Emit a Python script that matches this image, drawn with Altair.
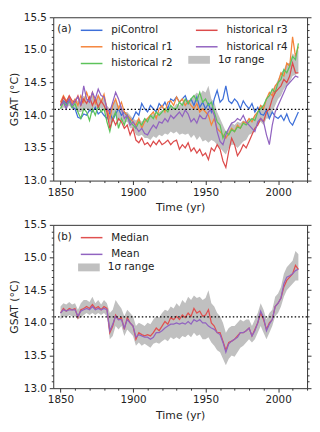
import altair as alt
import pandas as pd

# ---------------- data (every 2 years) ----------------
YEARS = list(range(1850, 2015, 2))

PICONTROL = [14.15, 14.22, 14.18, 14.25, 14.12, 14.10, 13.97, 13.95, 14.02, 14.00,
             14.08, 14.05, 14.12, 14.02, 14.06, 14.00, 13.95, 14.05, 13.92, 14.02,
             14.10, 14.00, 14.05, 13.98, 13.90, 13.95, 14.05, 14.00, 14.18, 14.10,
             14.05, 14.15, 14.10, 14.05, 14.18, 14.12, 14.20, 14.10, 14.25, 14.22,
             14.28, 14.20, 14.25, 14.30, 14.18, 14.25, 14.15, 14.28, 14.12, 14.20,
             14.10, 14.18, 14.05, 14.25, 14.38, 14.20, 14.25, 14.45, 14.22, 14.18,
             14.25, 14.20, 14.10, 14.22, 14.15, 14.10, 14.18, 14.05, 14.12, 14.02,
             14.00, 14.08, 13.95, 14.05, 13.98, 13.95, 14.00, 13.92, 14.02, 13.90,
             13.85, 13.95, 14.05]
HIST_R1 = [14.20, 14.30, 14.22, 14.28, 14.18, 14.25, 14.15, 14.30, 14.20, 14.35,
           14.22, 14.35, 14.18, 14.30, 14.20, 14.32, 14.10, 13.95, 14.15, 14.25,
           14.10, 14.20, 14.05, 14.00, 13.95, 13.90, 13.85, 13.95, 13.80, 13.90,
           13.95, 14.00, 14.05, 13.95, 14.10, 14.15, 14.05, 14.20, 14.22, 14.15,
           14.28, 14.20, 14.25, 14.15, 14.22, 14.15, 14.10, 14.18, 14.05, 14.10,
           14.05, 14.00, 13.85, 13.95, 13.80, 13.75, 13.70, 13.65, 13.72, 13.80,
           13.75, 13.85, 13.80, 13.90, 13.88, 13.95, 13.90, 14.00, 14.05, 14.15,
           14.10, 14.25, 14.35, 14.30, 14.45, 14.50, 14.65, 14.60, 14.80, 14.75,
           15.20, 14.90, 15.05]
HIST_R2 = [14.10, 14.20, 14.15, 14.22, 14.12, 14.18, 14.05, 13.95, 14.10, 14.05,
           13.92, 14.10, 14.00, 14.15, 14.05, 14.10, 13.90, 13.75, 13.95, 14.05,
           13.80, 13.95, 13.85, 14.00, 13.90, 13.85, 13.80, 13.90, 13.85, 13.95,
           13.90, 14.00, 13.95, 14.05, 14.00, 14.05, 14.10, 14.05, 14.15, 14.10,
           14.10, 14.20, 14.15, 14.25, 14.18, 14.25, 14.30, 14.22, 14.35, 14.20,
           14.25, 14.15, 14.20, 14.05, 13.90, 13.85, 13.65, 13.75, 13.70, 13.78,
           13.75, 13.82, 13.80, 13.88, 13.85, 13.90, 13.95, 13.92, 14.05, 14.10,
           14.15, 14.25, 14.30, 14.40, 14.35, 14.50, 14.55, 14.70, 14.65, 14.75,
           14.90, 14.85, 15.10]
HIST_R3 = [14.15, 14.28, 14.20, 14.30, 14.22, 14.20, 14.30, 14.15, 14.25, 14.18,
           14.28, 14.15, 14.25, 14.12, 14.22, 14.15, 14.05, 13.80, 13.95, 13.85,
           13.95, 13.90, 13.80, 13.85, 13.70, 13.80, 13.62, 13.58, 13.65, 13.55,
           13.58, 13.52, 13.60, 13.55, 13.62, 13.55, 13.58, 13.62, 13.55, 13.60,
           13.62, 13.48, 13.55, 13.50, 13.58, 13.45, 13.50, 13.42, 13.48, 13.38,
           13.42, 13.32, 13.50, 13.45, 13.55, 13.48, 13.30, 13.20, 13.45, 13.65,
           13.55, 13.38, 13.45, 13.55, 13.50, 13.60, 13.70, 13.80, 13.85, 13.95,
           13.90, 14.05, 14.10, 14.25, 14.35, 14.40, 14.45, 14.55, 14.50, 14.60,
           14.80, 14.65, 14.65]
HIST_R4 = [14.15, 14.20, 14.10, 14.25, 14.15, 14.22, 14.28, 14.15, 14.45, 14.25,
           14.20, 14.35, 14.25, 14.40, 14.30, 14.28, 14.10, 14.05, 14.20, 14.35,
           14.25, 14.10, 13.95, 14.00, 13.85, 13.90, 13.82, 13.75, 13.80, 13.72,
           13.70, 13.78, 13.85, 13.80, 13.90, 13.88, 13.95, 13.90, 14.00, 13.95,
           14.00, 14.05, 13.98, 14.08, 14.02, 13.90, 13.95, 13.88, 14.00, 13.95,
           13.95, 14.05, 14.10, 14.00, 13.75, 13.60, 13.55, 13.70, 13.80, 13.88,
           13.90, 13.95, 13.92, 14.00, 13.90, 13.85, 13.80, 13.75, 13.90, 13.95,
           13.90, 13.70, 13.55, 13.85, 14.05, 14.15, 14.25, 14.35, 14.45, 14.50,
           14.55, 14.60, 14.58]
BAND_A_LO = [14.10, 14.12, 14.10, 14.15, 14.10, 14.10, 14.05, 14.05, 14.08, 14.10,
             14.05, 14.12, 14.08, 14.15, 14.10, 14.12, 13.95, 13.85, 13.95, 14.00,
             13.90, 13.95, 13.88, 13.90, 13.80, 13.80, 13.70, 13.68, 13.70, 13.65,
             13.65, 13.62, 13.68, 13.65, 13.70, 13.68, 13.72, 13.70, 13.75, 13.72,
             13.75, 13.70, 13.72, 13.70, 13.72, 13.65, 13.70, 13.62, 13.68, 13.60,
             13.62, 13.58, 13.62, 13.60, 13.55, 13.50, 13.45, 13.40, 13.50, 13.55,
             13.55, 13.50, 13.55, 13.60, 13.62, 13.70, 13.72, 13.75, 13.85, 13.90,
             13.85, 13.95, 13.95, 14.05, 14.15, 14.25, 14.30, 14.40, 14.45, 14.50,
             14.60, 14.62, 14.65]
BAND_A_HI = [14.22, 14.28, 14.22, 14.28, 14.20, 14.25, 14.22, 14.25, 14.30, 14.25,
             14.25, 14.32, 14.22, 14.32, 14.25, 14.30, 14.15, 14.10, 14.18, 14.25,
             14.15, 14.15, 14.05, 14.05, 14.00, 13.95, 13.92, 13.95, 13.90, 13.95,
             13.95, 14.00, 14.02, 14.00, 14.05, 14.08, 14.05, 14.10, 14.15, 14.12,
             14.18, 14.15, 14.20, 14.25, 14.22, 14.25, 14.30, 14.35, 14.30, 14.38,
             14.35, 14.45, 14.25, 14.20, 14.05, 13.95, 13.85, 13.75, 13.80, 13.88,
             13.85, 13.90, 13.88, 13.92, 13.90, 13.95, 13.95, 14.00, 14.05, 14.15,
             14.15, 14.25, 14.30, 14.40, 14.45, 14.55, 14.65, 14.70, 14.80, 14.80,
             14.95, 14.90, 15.00]

MEDIAN = [14.15, 14.22, 14.18, 14.22, 14.20, 14.22, 14.08, 14.20, 14.22, 14.25,
          14.22, 14.28, 14.22, 14.25, 14.20, 14.25, 14.22, 13.85, 13.95, 14.12,
          14.05, 14.08, 13.90, 14.08, 14.00, 13.95, 13.75, 13.85, 13.82, 13.80,
          13.82, 13.80, 13.85, 13.92, 13.88, 13.95, 14.02, 13.98, 14.08, 14.05,
          14.10, 14.05, 14.12, 14.08, 14.15, 14.10, 14.22, 14.15, 14.18, 14.10,
          14.12, 14.20, 14.00, 13.95, 13.85, 13.85, 13.72, 13.58, 13.70, 13.72,
          13.75, 13.80, 13.85, 13.85, 13.88, 13.92, 13.80, 13.90, 14.00, 14.15,
          14.05, 13.90, 14.00, 14.05, 14.25, 14.30, 14.38, 14.55, 14.65, 14.70,
          14.75, 14.88, 14.82]
MEAN = [14.15, 14.20, 14.18, 14.20, 14.20, 14.20, 14.10, 14.18, 14.20, 14.22,
        14.20, 14.25, 14.20, 14.22, 14.20, 14.22, 14.20, 13.88, 13.98, 14.10,
        14.05, 14.05, 13.92, 14.05, 14.00, 13.95, 13.78, 13.82, 13.80, 13.78,
        13.78, 13.75, 13.78, 13.85, 13.85, 13.88, 13.92, 13.95, 13.98, 13.98,
        14.00, 13.98, 14.00, 13.98, 14.02, 13.98, 14.05, 14.02, 14.05, 14.00,
        14.00, 13.95, 13.92, 13.90, 13.85, 13.82, 13.70, 13.55, 13.68, 13.72,
        13.75, 13.78, 13.85, 13.85, 13.88, 13.92, 13.80, 13.88, 14.00, 14.18,
        14.08, 13.88, 13.98, 14.05, 14.25, 14.30, 14.38, 14.60, 14.70, 14.72,
        14.75, 14.80, 14.82]
BAND_B_LO = [14.05, 14.10, 14.08, 14.12, 14.10, 14.10, 14.05, 14.08, 14.12, 14.15,
             14.12, 14.15, 14.12, 14.15, 14.12, 14.15, 14.10, 13.75, 13.80, 13.95,
             13.90, 13.95, 13.80, 13.90, 13.85, 13.80, 13.65, 13.70, 13.65, 13.68,
             13.65, 13.62, 13.68, 13.70, 13.68, 13.72, 13.75, 13.72, 13.78, 13.75,
             13.78, 13.75, 13.80, 13.78, 13.82, 13.78, 13.85, 13.80, 13.82, 13.75,
             13.75, 13.78, 13.70, 13.65, 13.58, 13.55, 13.45, 13.35, 13.45, 13.50,
             13.48, 13.55, 13.62, 13.65, 13.70, 13.75, 13.70, 13.75, 13.85, 13.95,
             13.85, 13.75, 13.85, 13.95, 14.10, 14.15, 14.25, 14.40, 14.50, 14.55,
             14.60, 14.65, 14.65]
BAND_B_HI = [14.25, 14.30, 14.28, 14.32, 14.28, 14.30, 14.20, 14.30, 14.35, 14.35,
             14.32, 14.40, 14.30, 14.35, 14.28, 14.35, 14.30, 14.15, 14.20, 14.35,
             14.28, 14.22, 14.10, 14.20, 14.15, 14.10, 13.95, 14.00, 13.98, 13.95,
             14.00, 13.98, 14.05, 14.10, 14.08, 14.15, 14.20, 14.18, 14.25, 14.22,
             14.30, 14.25, 14.35, 14.30, 14.40, 14.35, 14.42, 14.38, 14.40, 14.35,
             14.38, 14.50, 14.30, 14.25, 14.15, 14.10, 14.00, 13.85, 13.92, 13.95,
             13.95, 14.00, 14.05, 14.02, 14.05, 14.05, 13.95, 14.05, 14.15, 14.30,
             14.20, 14.05, 14.15, 14.20, 14.40, 14.45, 14.55, 14.75, 14.85, 14.90,
             14.95, 15.10, 15.05]

BASELINE = 14.09

NAMES_A = ["piControl", "historical r1", "historical r2", "historical r3", "historical r4"]
VALUES_A = [PICONTROL, HIST_R1, HIST_R2, HIST_R3, HIST_R4]
COLORS = {"piControl": "#3d6fd9", "historical r1": "#f5843a", "historical r2": "#5cc35a",
          "historical r3": "#dc4b4b", "historical r4": "#9163c0",
          "Median": "#e0504f", "Mean": "#9163c0"}
NAMES_B = ["Median", "Mean"]
VALUES_B = [MEDIAN, MEAN]
BAND_LABEL = "1σ range"
BAND_COLOR = "#c0c0c0"

X_TICKS = list(range(1850, 2021, 10))
Y_TICKS = [round(13.0 + 0.1 * i, 1) for i in range(26)]

# ---------------- tables ----------------
def long_table(names, values):
    rows = []
    for n, vals in zip(names, values):
        for yr, v in zip(YEARS, vals):
            rows.append({"year": yr, "value": v, "series": n})
    return pd.DataFrame(rows)

lines_a = long_table(NAMES_A, VALUES_A)
lines_b = long_table(NAMES_B, VALUES_B)
band_a = pd.DataFrame({"year": YEARS, "lo": BAND_A_LO, "hi": BAND_A_HI, "label": BAND_LABEL})
band_b = pd.DataFrame({"year": YEARS, "lo": BAND_B_LO, "hi": BAND_B_HI, "label": BAND_LABEL})
base_df = pd.DataFrame({"y": [BASELINE]})

FONT = "DejaVu Sans"
TXT = "#222222"
xscale = alt.Scale(domain=[1845, 2020], nice=False, zero=False)
yscale = alt.Scale(domain=[13.0, 15.5], nice=False, zero=False)

X_MAJOR = "datum.value % 50 === 0"
Y_MAJOR = "abs(datum.value * 2 - round(datum.value * 2)) < 0.001"

x_axis = alt.Axis(values=X_TICKS, format="d", orient="bottom", title="Time (yr)",
                  labelExpr=f"({X_MAJOR}) ? datum.label : ''",
                  tickSize={"condition": {"test": f"!({X_MAJOR})", "value": 2}, "value": 4})
y_axis = alt.Axis(values=Y_TICKS, format=".1f", orient="left", title="GSAT (°C)",
                  labelExpr=f"({Y_MAJOR}) ? datum.label : ''",
                  tickSize={"condition": {"test": f"!({Y_MAJOR})", "value": 2}, "value": 4})
y_axis_r = alt.Axis(values=Y_TICKS, orient="right", title="", labels=False,
                    tickSize={"condition": {"test": f"!({Y_MAJOR})", "value": 2}, "value": 4})

W, H = 258, 166
# legend symbols: a short unit size keeps rows tight, the path itself is ~22px long
LINE_SYM = "M-1,0L3.4,0"
BOX_SYM = "M-1,-0.8L3.4,-0.8L3.4,0.8L-1,0.8Z"
SYM_SIZE = 100


def panel(band_df, line_df, names_order, tag, leg_xy, band_xy, columns):
    band = alt.Chart(band_df).mark_area(opacity=1).encode(
        x=alt.X("year:Q", scale=xscale, axis=x_axis),
        y=alt.Y("lo:Q", scale=yscale, axis=y_axis),
        y2="hi:Q",
        fill=alt.Fill("label:N", scale=alt.Scale(domain=[BAND_LABEL], range=[BAND_COLOR]),
                      legend=alt.Legend(title=None, orient="none", legendX=band_xy[0],
                                        legendY=band_xy[1], symbolType=BOX_SYM,
                                        symbolSize=SYM_SIZE, symbolStrokeWidth=0,
                                        symbolOpacity=1)),
    )
    lines = alt.Chart(line_df).mark_line(strokeWidth=1.25).encode(
        x=alt.X("year:Q", scale=xscale, axis=None),
        y=alt.Y("value:Q", scale=yscale, axis=None),
        color=alt.Color("series:N",
                        scale=alt.Scale(domain=names_order,
                                        range=[COLORS[n] for n in names_order]),
                        legend=alt.Legend(title=tag, titleOrient="left", titleAnchor="start",
                                          columns=columns, orient="none",
                                          legendX=leg_xy[0], legendY=leg_xy[1],
                                          symbolType=LINE_SYM, symbolSize=SYM_SIZE,
                                          symbolStrokeWidth=1.5)),
        detail="series:N",
    )
    rule = alt.Chart(base_df).mark_rule(color="black", strokeWidth=1.2,
                                        strokeDash=[1.5, 2.2]).encode(
        y=alt.Y("y:Q", scale=yscale, axis=y_axis_r),
    )
    return alt.layer(band, lines, rule).resolve_axis(
        y="independent", x="independent").properties(width=W, height=H)


pa = panel(band_a, lines_a, NAMES_A, "(a)", (4, 7), (137, 38), 2)
pb = panel(band_b, lines_b, NAMES_B, "(b)", (4, 7), (25, 38), 1)

chart = alt.vconcat(pa, pb, spacing=6).resolve_scale(
    color="independent", fill="independent"
).resolve_legend(color="independent", fill="independent").properties(
    padding=0
).configure_view(
    stroke="#333333", strokeWidth=1
).configure_axis(
    domain=False, grid=False, labelFont=FONT, titleFont=FONT, labelFontSize=10.5,
    titleFontSize=11, titleFontWeight="normal", labelColor=TXT, titleColor=TXT,
    tickColor="#333333", tickWidth=1, labelPadding=3, titlePadding=4
).configure_legend(
    labelFont=FONT, titleFont=FONT, labelFontSize=10.5, titleFontSize=10.5,
    titleFontWeight="normal", labelColor=TXT, titleColor=TXT, padding=0,
    labelOffset=20, columnPadding=20, rowPadding=5, titlePadding=8
)

chart.save("out.html", embed_options={"renderer": "svg", "actions": False})
